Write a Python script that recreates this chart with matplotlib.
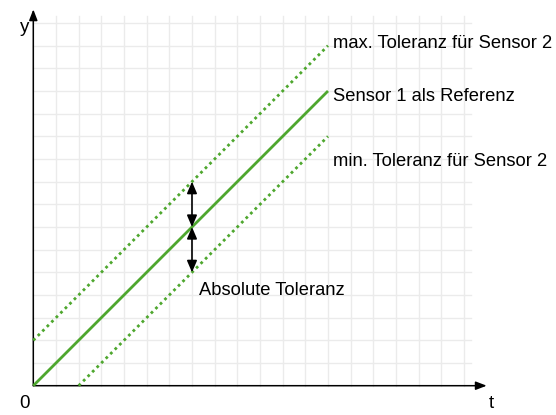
import matplotlib
matplotlib.use("Agg")
import matplotlib.pyplot as plt
import numpy as np

plt.rcParams['font.family'] = ['Liberation Sans', 'DejaVu Sans']

# Reference line and tolerance band (grid units)
t_ref = [0, 13]
y_ref = [0, 13]
t_max = [0, 13]
y_max = [2, 15]
t_min = [2, 13]
y_min = [0, 11]

# Absolute tolerance markers
tol_t = 7
tol_center = 7
tol_upper = 9
tol_lower = 5

labels = {
    "max": "max. Toleranz für Sensor 2",
    "ref": "Sensor 1 als Referenz",
    "min": "min. Toleranz für Sensor 2",
    "abs": "Absolute Toleranz",
}

green = "#4ea72e"
grid_col = "#ebebeb"

fig = plt.figure(figsize=(5.56, 4.15), dpi=100)
ax = fig.add_axes([0, 0, 1, 1])
cell = 22.67
ox, oy = 33.3, 385.7
ax.set_xlim(-ox / cell, (556 - ox) / cell)
ax.set_ylim(-(415 - oy) / cell, oy / cell)
ax.axis("off")

# background grid
gx_max, gy_max = 19.3, 16.3
for gx in range(1, 20):
    ax.plot([gx, gx], [0, gy_max], color=grid_col, lw=1.0, zorder=0)
for gy in range(1, 17):
    ax.plot([0, gx_max], [gy, gy], color=grid_col, lw=1.0, zorder=0)

# axes with arrows
ax.annotate("", xy=(20.0, 0), xytext=(0, 0),
            arrowprops=dict(arrowstyle="-|>,head_length=0.65,head_width=0.25",
                            color="black", lw=1.1, shrinkA=0, shrinkB=0))
ax.annotate("", xy=(0, 16.6), xytext=(0, 0),
            arrowprops=dict(arrowstyle="-|>,head_length=0.65,head_width=0.25",
                            color="black", lw=1.1, shrinkA=0, shrinkB=0))

# lines
ax.plot(t_ref, y_ref, color=green, lw=2.0, solid_capstyle="butt", zorder=3)
ax.plot(t_max, y_max, color=green, lw=2.0, linestyle=(0, (1, 1.3)), zorder=3)
ax.plot(t_min, y_min, color=green, lw=2.0, linestyle=(0, (1, 1.3)), zorder=3)

# tolerance arrows
for a, b in [(tol_center, tol_upper), (tol_center, tol_lower)]:
    ax.annotate("", xy=(tol_t, b), xytext=(tol_t, a),
                arrowprops=dict(arrowstyle="<|-|>,head_length=0.7,head_width=0.3",
                                color="black", lw=1.2, shrinkA=0, shrinkB=0),
                zorder=4)

fs = 13.2
ax.text(13.2, 15.1, labels["max"], fontsize=fs, va="center", ha="left")
ax.text(13.2, 12.75, labels["ref"], fontsize=fs, va="center", ha="left")
ax.text(13.2, 9.9, labels["min"], fontsize=fs, va="center", ha="left")
ax.text(7.3, 4.2, labels["abs"], fontsize=fs, va="center", ha="left")

ax.text(-0.4, 15.8, "y", fontsize=13.5, va="center", ha="center")
ax.text(-0.4, -0.8, "0", fontsize=13.5, va="center", ha="center")
ax.text(20.2, -0.8, "t", fontsize=13.5, va="center", ha="center")

fig.savefig("out.png", dpi=100)
